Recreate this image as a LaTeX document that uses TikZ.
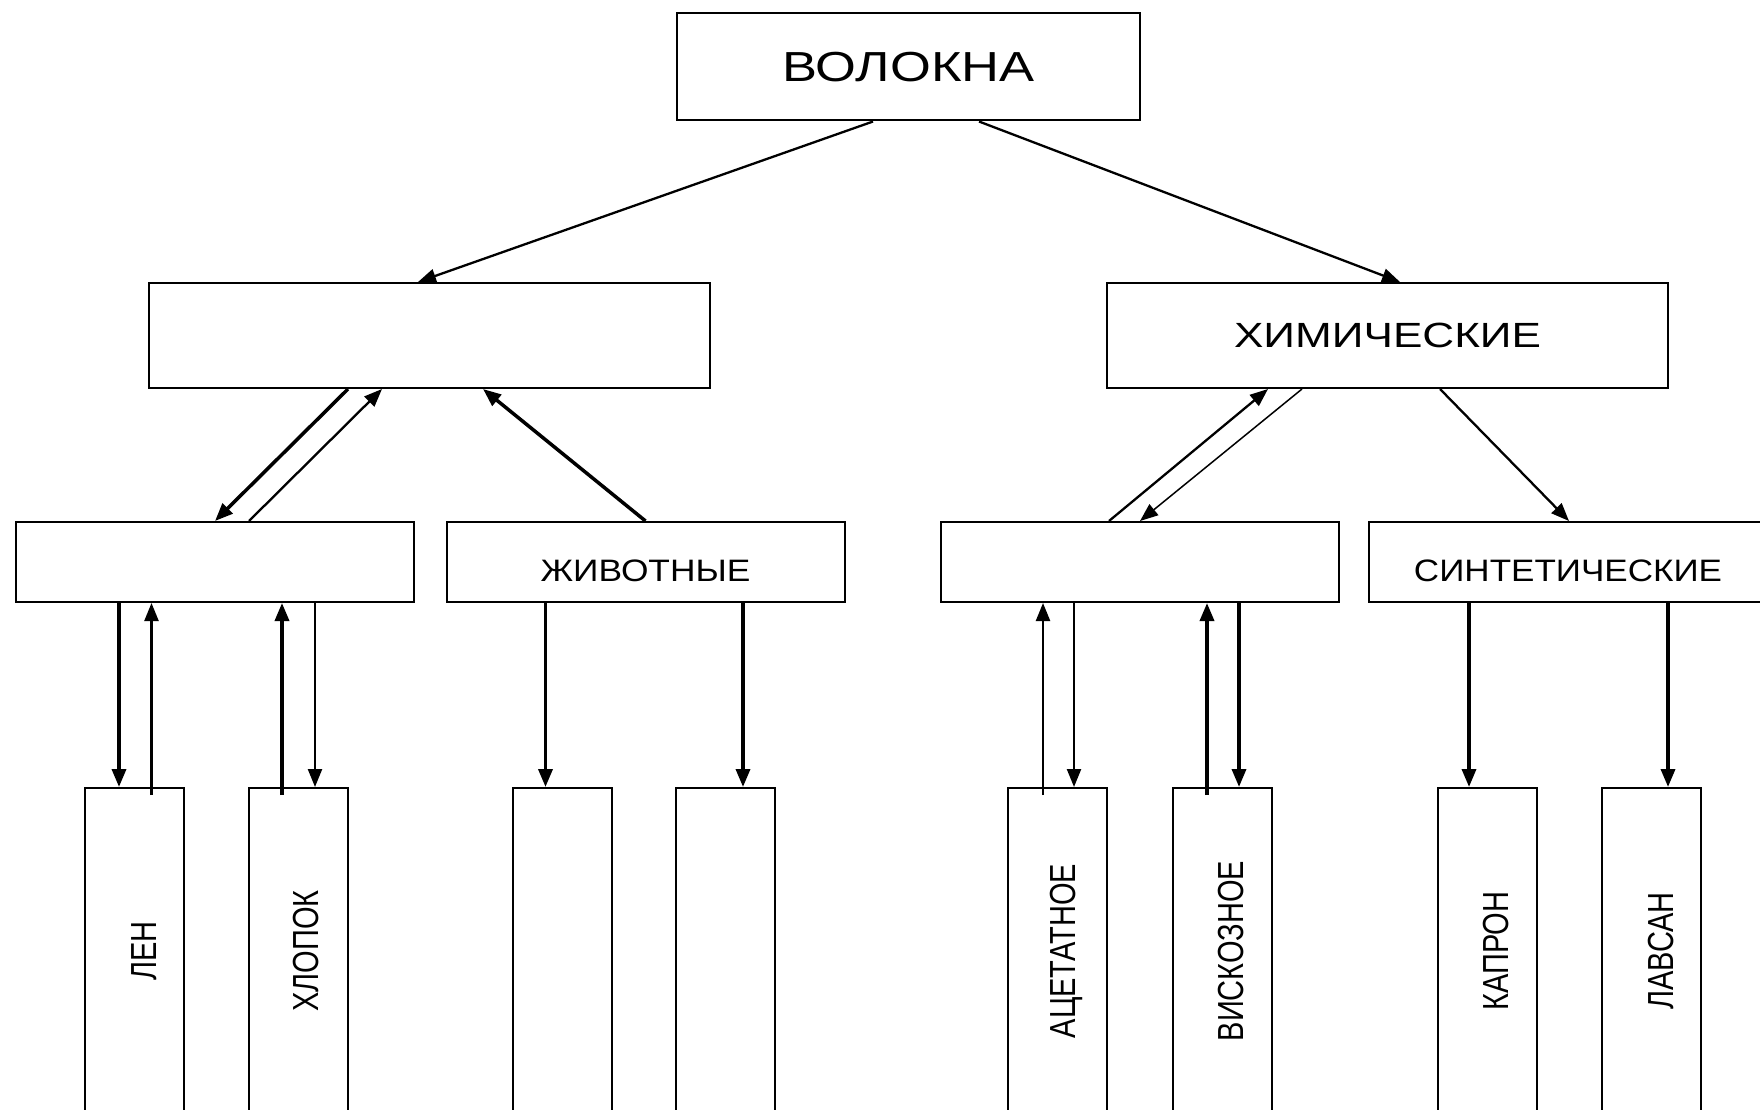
\documentclass[tikz,border=0pt]{standalone}
\usepackage{fontspec}
\setmainfont{Liberation Sans}
\usetikzlibrary{arrows.meta}
\newcommand{\wtxt}[2][1.22]{\scalebox{#1}[1]{#2}}
\newcommand{\vtxt}[1]{\scalebox{1}[1.25]{#1}}
\newcommand{\lowtxt}[1]{\raisebox{-9pt}[\height][\depth]{#1}}
\begin{document}
\begin{tikzpicture}[x=1pt,y=-1pt,
 box/.style={draw, line width=2pt, inner sep=0pt, rectangle},
 top/.style={box, minimum width=463pt, minimum height=107pt, font=\fontsize{42}{46}\selectfont},
 mid/.style={box, minimum width=561pt, minimum height=105pt, font=\fontsize{35}{40}\selectfont},
 row/.style={box, minimum width=398pt, minimum height=80pt, font=\fontsize{31}{36}\selectfont},
 col/.style={box, minimum width=99pt, minimum height=326pt},
 thk/.style={line width=3.5pt, -{Triangle[length=18pt,width=14pt]}},
 thn/.style={line width=2.3pt, -{Triangle[length=18pt,width=14pt]}},
 vtext/.style={rotate=90, font=\fontsize{29}{32}\selectfont, inner sep=0pt}
]
\useasboundingbox[fill=white] (0,0) rectangle (1760,1110);

% boxes
\node[top] (vol) at (908.5,67) {\wtxt[1.25]{ВОЛОКНА}};
\node[mid] (nat) at (429.5,335.5) {};
\node[mid] (chem) at (1387.5,335.5) {\wtxt[1.26]{ХИМИЧЕСКИЕ}};
\node[row] (rA) at (215,562) {};
\node[row] (anim) at (645.5,562) {\lowtxt{\wtxt[1.14]{ЖИВОТНЫЕ}}};
\node[row] (rC) at (1140,562) {};
\node[row] (syn) at (1568,562) {\lowtxt{\wtxt[1.13]{СИНТЕТИЧЕСКИЕ}}};

\node[col] (b1) at (134,951) {};
\node[col] (b2) at (298.5,951) {};
\node[col] (b3) at (562.5,951) {};
\node[col] (b4) at (725.5,951) {};
\node[col] (b5) at (1057,951) {};
\node[col] (b6) at (1222,951) {};
\node[col] (b7) at (1487,951) {};
\node[col] (b8) at (1651.5,951) {};

% vertical labels
\node[vtext] (t1) at ([xshift=10pt]b1.center) {\vtxt{ЛЕН}};
\node[vtext] (t2) at ([xshift=8pt]b2.center) {\vtxt{ХЛОПОК}};
\node[vtext] (t5) at ([xshift=9pt]b5.center) {\vtxt{АЦЕТАТНОЕ}};
\node[vtext] (t6) at ([xshift=9pt]b6.center) {\vtxt{ВИСКОЗНОЕ}};
\node[vtext] (t7) at ([xshift=9pt]b7.center) {\vtxt{КАПРОН}};
\node[vtext] (t8) at ([xshift=9pt]b8.center) {\vtxt{ЛАВСАН}};

% top level
\draw[thn] ([xshift=-35.5pt]vol.south) -- ([xshift=-11.5pt]nat.north);
\draw[thn] ([xshift=70.5pt]vol.south) -- ([xshift=12.5pt]chem.north);

% second level
\draw[thk] ([xshift=-81.5pt]nat.south) -- (rA.north);
\draw[thn] ([xshift=34pt]rA.north) -- ([xshift=-47.5pt]nat.south);
\draw[thk] (anim.north) -- ([xshift=53.5pt]nat.south);
\draw[thn] ([xshift=-31pt]rC.north) -- ([xshift=-119.5pt]chem.south);
\draw[line width=1.5pt, -{Triangle[length=18pt,width=14pt]}] ([xshift=-85.5pt]chem.south) -- (rC.north);
\draw[thn] ([xshift=52.5pt]chem.south) -- ([xshift=1pt]syn.north);

% third level
\draw[thk] ([xshift=-96pt]rA.south) -- ([xshift=-15pt]b1.north);
\draw[thn] ([xshift=17.5pt,yshift=-8pt]b1.north) -- ([xshift=-63.5pt]rA.south);
\draw[thk] ([xshift=-16.5pt,yshift=-8pt]b2.north) -- ([xshift=67pt]rA.south);
\draw[thn] ([xshift=100pt]rA.south) -- ([xshift=16.5pt]b2.north);
\draw[thk] ([xshift=-100pt]anim.south) -- ([xshift=-17pt]b3.north);
\draw[thk] ([xshift=97.5pt]anim.south) -- ([xshift=17.5pt]b4.north);
\draw[thn] ([xshift=-14pt,yshift=-8pt]b5.north) -- ([xshift=-97pt]rC.south);
\draw[thn] ([xshift=-66pt]rC.south) -- ([xshift=17pt]b5.north);
\draw[thk] ([xshift=-15pt,yshift=-8pt]b6.north) -- ([xshift=67pt]rC.south);
\draw[thk] ([xshift=99pt]rC.south) -- ([xshift=17pt]b6.north);
\draw[thk] ([xshift=-99pt]syn.south) -- ([xshift=-18pt]b7.north);
\draw[thk] ([xshift=100pt]syn.south) -- ([xshift=16.5pt]b8.north);
\end{tikzpicture}
\end{document}
